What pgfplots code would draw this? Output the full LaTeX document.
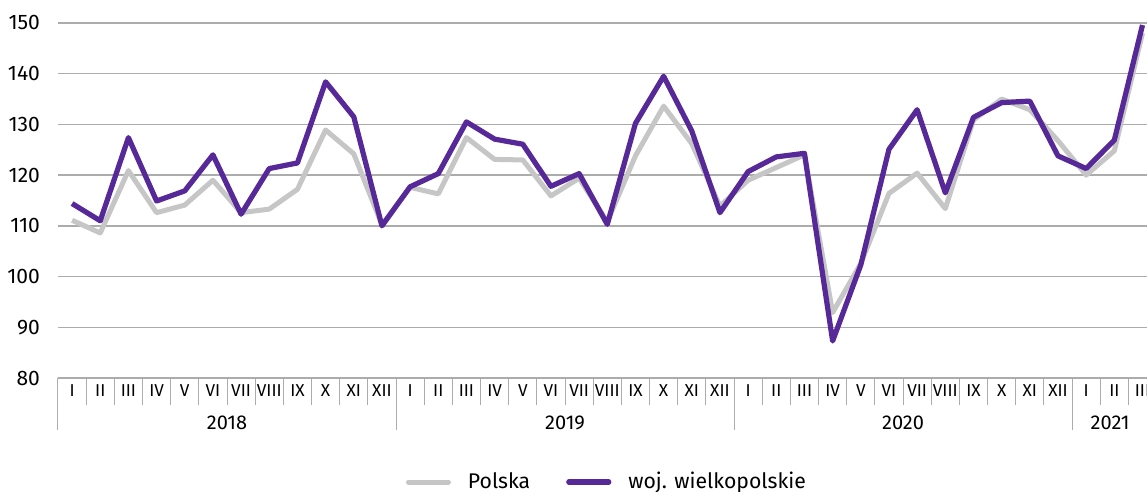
\documentclass[border=0pt]{standalone}
\usepackage{fontspec}
\setmainfont{Fira Sans}
\usepackage{pgfplots}
\usepackage{pgfplotstable}
\pgfplotsset{compat=1.18}
\usetikzlibrary{calc}

\definecolor{wlkp}{RGB}{86,40,152}
\definecolor{pl}{RGB}{198,198,198}
\definecolor{gridc}{RGB}{172,172,172}

% indeks, Polska, woj. wielkopolskie (2018 I - 2021 III)
\pgfplotstableread{
x   pl     wlkp
0   111.1  114.4
1   108.6  111.0
2   120.9  127.4
3   112.6  114.9
4   114.1  116.9
5   119.0  124.0
6   112.6  112.3
7   113.3  121.3
8   117.2  122.4
9   128.9  138.4
10  124.2  131.5
11  110.2  110.0
12  117.6  117.7
13  116.3  120.3
14  127.4  130.5
15  123.1  127.1
16  123.0  126.1
17  115.9  117.8
18  119.4  120.3
19  110.8  110.3
20  123.8  130.2
21  133.6  139.5
22  126.2  128.7
23  113.9  112.6
24  119.0  120.7
25  121.5  123.6
26  124.0  124.3
27  92.9   87.3
28  102.6  102.3
29  116.4  125.1
30  120.4  132.9
31  113.4  116.5
32  130.9  131.4
33  135.0  134.3
34  132.9  134.6
35  126.8  123.8
36  120.0  121.3
37  124.8  126.9
38  148.0  149.6
}\dane

\begin{document}
\begin{tikzpicture}
\begin{axis}[
  name=ax,
  scale only axis,
  width=544.5pt, height=177.5pt,
  xmin=-0.5, xmax=38.16,
  ymin=80, ymax=150,
  ytick={80,90,...,150},
  ymajorgrids,
  grid style={gridc, line width=0.75pt},
  axis line style={draw=none},
  /pgf/number format/assume math mode=true,
  major tick length=0pt,
  minor tick length=13.5pt,
  tick align=outside,
  xtick pos=bottom,
  ytick pos=left,
  yticklabel style={xshift=-5.5pt, font=\fontsize{10.5}{12}\selectfont},
  xtick={0,...,38},
  xticklabels={I,II,III,IV,V,VI,VII,VIII,IX,X,XI,XII,
               I,II,III,IV,V,VI,VII,VIII,IX,X,XI,XII,
               I,II,III,IV,V,VI,VII,VIII,IX,X,XI,XII,
               I,II,III},
  xticklabel style={anchor=north, font=\fontsize{8.6}{10}\selectfont},
  major x tick style={draw=none},
  minor xtick={-0.5,0.5,...,37.5},
  minor x tick style={draw=gridc, line width=0.5pt},
  extra x ticks={-0.5,11.5,23.5,35.5},
  extra x tick labels={},
  extra x tick style={major tick length=26pt, major x tick style={draw=gridc, line width=0.5pt}},
  clip mode=individual,
  legend columns=2,
  legend style={at={(0.505,-0.293)}, anchor=center, draw=none, fill=none,
    /tikz/every odd column/.append style={column sep=6.5pt},
    /tikz/every even column/.append style={column sep=16pt},
    font=\fontsize{10.6}{13}\selectfont},
  legend image code/.code={\draw[#1, line cap=round] (0pt,0pt) -- (20pt,0pt);},
]
\addplot[pl, line width=2.5pt, line join=round] table[x=x, y=pl] {\dane};
\addlegendentry{Polska}
\addplot[wlkp, line width=2.6pt, line join=round] table[x=x, y=wlkp] {\dane};
\addlegendentry{woj. wielkopolskie}

\node[font=\fontsize{10}{12}\selectfont] at (axis cs:5.5,80) [yshift=-22.5pt] {2018};
\node[font=\fontsize{10}{12}\selectfont] at (axis cs:17.5,80) [yshift=-22.5pt] {2019};
\node[font=\fontsize{10}{12}\selectfont] at (axis cs:29.5,80) [yshift=-22.5pt] {2020};
\node[font=\fontsize{10}{12}\selectfont] at (axis cs:36.85,80) [yshift=-22.5pt] {2021};
\end{axis}
\pgfresetboundingbox
\path ($(ax.south west)+(-29pt,-57pt)$) rectangle ($(ax.north east)+(0pt,11.5pt)$);
\end{tikzpicture}
\end{document}
